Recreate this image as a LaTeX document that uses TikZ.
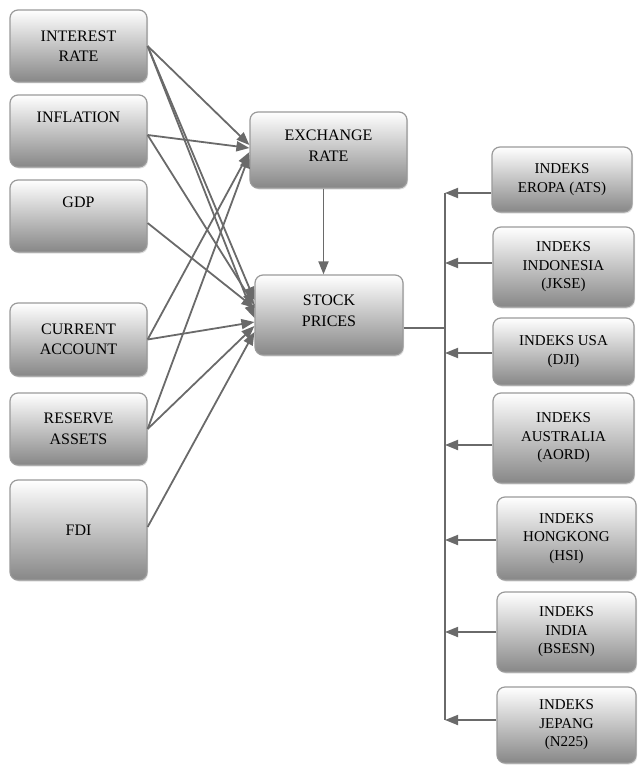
\documentclass[tikz,border=0pt]{standalone}
\usepackage{fontspec}
\setmainfont{Liberation Serif}
\usetikzlibrary{arrows.meta,shadows}
\definecolor{linegray}{HTML}{6A6A6A}
\definecolor{bordergray}{HTML}{9A9A9A}
\tikzset{
  box/.style={draw=bordergray, line width=1.2pt, rounded corners=8pt,
    top color=white, bottom color=black!47,
    drop shadow={shadow xshift=1pt, shadow yshift=-1.5pt, opacity=0.25},
    align=center, inner sep=0pt, text=black},
  lbox/.style={box, minimum width=137pt, font=\fontsize{16}{20.5}\selectfont},
  rbox/.style={box, minimum width=140pt, font=\fontsize{15}{18.5}\selectfont},
  arr/.style={draw=linegray, line width=1.8pt, -{Triangle[length=13pt,width=10pt,fill=linegray]}},
  plain/.style={draw=linegray, line width=1.5pt}
}
\begin{document}
\begin{tikzpicture}[x=1pt,y=-1pt]
\useasboundingbox (0,0) rectangle (637,765);
% left boxes
\node[lbox, minimum height=72pt] (ir) at (78.5,46) {INTEREST\\RATE};
\node[lbox, minimum height=72pt] (inf) at (78.5,131) {INFLATION\\\strut};
\node[lbox, minimum height=72pt] (gdp) at (78.5,216) {GDP\\\strut};
\node[lbox, minimum height=73pt] (ca) at (78.5,339.5) {CURRENT\\ACCOUNT};
\node[lbox, minimum height=72pt] (ra) at (78.5,429) {RESERVE\\ASSETS};
\node[lbox, minimum height=100pt] (fdi) at (78.5,530) {FDI};
% middle boxes
\node[box, minimum width=157pt, minimum height=76pt, text depth=9pt, font=\fontsize{16}{21}\selectfont] (ex) at (328.5,150) {EXCHANGE\\RATE};
\node[box, minimum width=148pt, minimum height=80pt, text depth=9pt, font=\fontsize{16}{20.5}\selectfont] (sp) at (329,315) {STOCK\\PRICES};
% right boxes
\node[rbox, minimum height=65pt] (eu) at (562,179.5) {INDEKS\\EROPA (ATS)};
\node[rbox, minimum height=80pt, minimum width=141pt] (idn) at (563.5,267) {INDEKS\\INDONESIA\\(JKSE)};
\node[rbox, minimum height=67pt, minimum width=141pt] (us) at (563.5,351.5) {INDEKS USA\\(DJI)};
\node[rbox, minimum height=90pt, minimum width=141pt] (au) at (563.5,438) {INDEKS\\AUSTRALIA\\(AORD)};
\node[rbox, minimum height=83pt, minimum width=139pt] (hk) at (566.5,538.5) {INDEKS\\HONGKONG\\(HSI)};
\node[rbox, minimum height=80pt, minimum width=139pt] (ind) at (566.5,632) {INDEKS\\INDIA\\(BSESN)};
\node[rbox, minimum height=76pt, minimum width=139pt] (jp) at (566.5,725) {INDEKS\\JEPANG\\(N225)};
% arrows to exchange rate
\draw[arr] (ir.east) -- ([yshift=5pt]ex.west);
\draw[arr] ([yshift=-4pt]inf.east) -- ([yshift=2pt]ex.west);
\draw[arr] (ca.east) -- ([yshift=-2pt]ex.west);
\draw[arr] (ra.east) -- ([yshift=-5pt]ex.west);
% arrows to stock prices
\draw[arr] (ir.east) -- ([yshift=15pt]sp.west);
\draw[arr] (ir.east) -- ([yshift=-3pt]sp.west);
\draw[arr] ([yshift=-4pt]inf.east) -- ([yshift=10pt]sp.west);
\draw[arr] ([yshift=-7pt]gdp.east) -- ([yshift=7pt]sp.west);
\draw[arr] (ca.east) -- ([yshift=-7pt]sp.west);
\draw[arr] (ra.east) -- ([yshift=-11pt]sp.west);
\draw[arr] ([yshift=3pt]fdi.east) -- ([yshift=-17pt]sp.west);
% exchange -> stock
\draw[arr] ([xshift=-5pt]ex.south) -- ([xshift=-5pt]ex.south |- sp.north);
% bus on the right
\coordinate (bt) at (445,193);
\coordinate (bb) at (445,720);
\draw[plain] (bt) -- (bb);
\draw[plain] ([yshift=-13pt]sp.east) -- ([yshift=-13pt]sp.east -| bt);
\draw[arr] ([yshift=-13.5pt]eu.west) -- ([yshift=-13.5pt]eu.west -| bt);
\draw[arr] ([yshift=4pt]idn.west) -- ([yshift=4pt]idn.west -| bt);
\draw[arr] ([yshift=-1.5pt]us.west) -- ([yshift=-1.5pt]us.west -| bt);
\draw[arr] ([yshift=-7pt]au.west) -- ([yshift=-7pt]au.west -| bt);
\draw[arr] ([yshift=-1.5pt]hk.west) -- ([yshift=-1.5pt]hk.west -| bt);
\draw[arr] (ind.west) -- (ind.west -| bt);
\draw[arr] ([yshift=5pt]jp.west) -- ([yshift=5pt]jp.west -| bt);
\end{tikzpicture}
\end{document}
